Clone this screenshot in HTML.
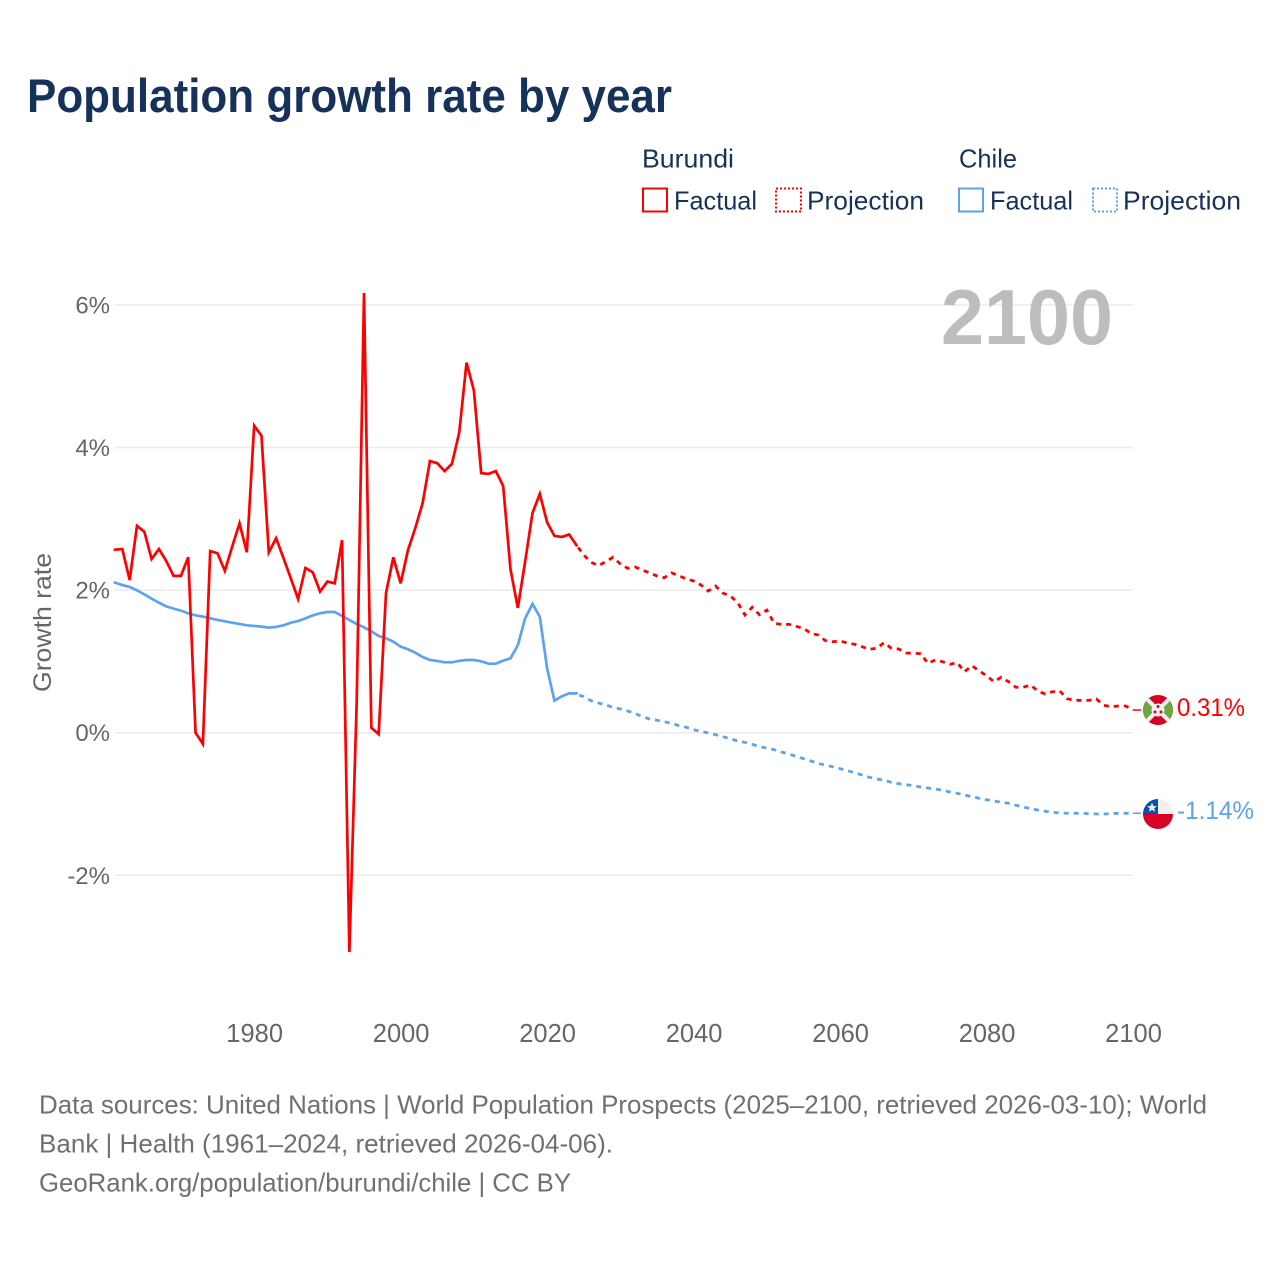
<!DOCTYPE html>
<html lang="en">
<head>
<meta charset="utf-8">
<title>Population growth rate by year</title>
<style>
html,body{margin:0;padding:0;background:#fff;}
svg{display:block;}
text{font-family:"Liberation Sans",sans-serif;}
</style>
</head>
<body>
<svg id="chart" xmlns="http://www.w3.org/2000/svg" width="1280" height="1280" viewBox="0 0 1280 1280">
  <defs>
    <clipPath id="flag-clip-b"><circle cx="1158" cy="710" r="15"/></clipPath>
    <clipPath id="flag-clip-c"><circle cx="1158" cy="814" r="15"/></clipPath>
  </defs>
  <rect x="0" y="0" width="1280" height="1280" fill="#ffffff"/>
  <text x="27" y="112" font-size="47" font-weight="700" fill="#17325a" textLength="645" lengthAdjust="spacingAndGlyphs">Population growth rate by year</text>

  <g font-size="26" fill="#17325a">
    <text x="642" y="167.5" textLength="92" lengthAdjust="spacingAndGlyphs">Burundi</text>
    <text x="959" y="167.5" textLength="58" lengthAdjust="spacingAndGlyphs">Chile</text>
    <g>
      <rect x="643" y="188.5" width="24" height="23" fill="none" stroke="#ff0000" stroke-width="2"/>
      <text x="674" y="209.5" textLength="83" lengthAdjust="spacingAndGlyphs">Factual</text>
    </g>
    <g>
      <rect x="776" y="188.5" width="25" height="23" fill="none" stroke="#ff0000" stroke-width="2" stroke-dasharray="2 2"/>
      <text x="807" y="209.5" textLength="117" lengthAdjust="spacingAndGlyphs">Projection</text>
    </g>
    <g>
      <rect x="959" y="188.5" width="24" height="23" fill="none" stroke="#5ba4ed" stroke-width="2"/>
      <text x="990" y="209.5" textLength="83" lengthAdjust="spacingAndGlyphs">Factual</text>
    </g>
    <g>
      <rect x="1093" y="188.5" width="24" height="23" fill="none" stroke="#5ba4ed" stroke-width="2" stroke-dasharray="2 2"/>
      <text x="1123" y="209.5" textLength="118" lengthAdjust="spacingAndGlyphs">Projection</text>
    </g>
  </g>

  <g id="grid"></g>
  <g id="yticks"></g>
  <g id="xticks"></g>
  <text transform="translate(51 622.5) rotate(-90)" text-anchor="middle" font-size="25" fill="#666666" textLength="139" lengthAdjust="spacingAndGlyphs">Growth rate</text>
  <text x="941" y="344" font-size="78" font-weight="700" fill="#bdbdbd" textLength="172" lengthAdjust="spacingAndGlyphs">2100</text>

  <g id="series"></g>

  <g clip-path="url(#flag-clip-b)">
    <rect x="1143" y="695" width="30" height="30" fill="#d80027"/>
    <path d="M1143 695 L1158 710 L1143 725 Z" fill="#6da544"/>
    <path d="M1173 695 L1158 710 L1173 725 Z" fill="#6da544"/>
    <path d="M1143 695 L1173 725 M1173 695 L1143 725" stroke="#f0f0f0" stroke-width="4"/>
    <circle cx="1158" cy="710" r="6.5" fill="#f0f0f0"/>
    <circle cx="1158" cy="706.5" r="1.5" fill="#d80027"/>
    <circle cx="1155" cy="712" r="1.5" fill="#d80027"/>
    <circle cx="1161" cy="712" r="1.5" fill="#d80027"/>
  </g>
  <g clip-path="url(#flag-clip-c)">
    <rect x="1143" y="799" width="30" height="15" fill="#f0f0f0"/>
    <rect x="1143" y="799" width="15" height="15" fill="#0052b4"/>
    <rect x="1143" y="814" width="30" height="15" fill="#d80027"/>
    <polygon points="1152,802.5 1153.4,806 1157,806.2 1154.2,808.4 1155.1,811.8 1152,809.9 1148.9,811.8 1149.8,808.4 1147,806.2 1150.6,806" fill="#f0f0f0"/>
  </g>
  <text x="1177" y="716" font-size="25" fill="#ff0000" textLength="68" lengthAdjust="spacingAndGlyphs">0.31%</text>
  <text x="1177" y="819" font-size="25" fill="#5ba4ed" textLength="77" lengthAdjust="spacingAndGlyphs">-1.14%</text>

  <g font-size="26" fill="#707070">
    <text x="39" y="1113.5" textLength="1168" lengthAdjust="spacingAndGlyphs">Data sources: United Nations | World Population Prospects (2025–2100, retrieved 2026-03-10); World</text>
    <text x="39" y="1152.5" textLength="574" lengthAdjust="spacingAndGlyphs">Bank | Health (1961–2024, retrieved 2026-04-06).</text>
    <text x="39" y="1191.5" textLength="532" lengthAdjust="spacingAndGlyphs">GeoRank.org/population/burundi/chile | CC BY</text>
  </g>
</svg>
<script>
const factualStartYear = 1961;
const projectionStartYear = 2024;
const yTicks = [6, 4, 2, 0, -2];
const xTicks = [1980, 2000, 2020, 2040, 2060, 2080, 2100];
const burundiFactual = [2.567,2.576,2.14,2.90,2.82,2.436,2.576,2.408,2.20,2.20,2.46,0.0,-0.158,2.548,2.516,2.27,2.61,2.936,2.53,4.306,4.165,2.53,2.726,2.45,2.165,1.875,2.31,2.25,1.98,2.12,2.095,2.70,-3.075,0.43,6.167,0.07,-0.02,1.955,2.46,2.095,2.56,2.87,3.22,3.81,3.78,3.67,3.77,4.21,5.19,4.80,3.64,3.63,3.67,3.46,2.29,1.75,2.40,3.08,3.35,2.95,2.76,2.745,2.78,2.63];
const chileFactual = [2.104,2.071,2.044,1.997,1.94,1.88,1.824,1.772,1.74,1.712,1.674,1.646,1.628,1.604,1.581,1.562,1.543,1.525,1.506,1.497,1.488,1.474,1.483,1.506,1.543,1.566,1.604,1.646,1.674,1.693,1.693,1.637,1.58,1.525,1.478,1.422,1.356,1.324,1.276,1.206,1.17,1.122,1.062,1.02,1.006,0.987,0.987,1.006,1.02,1.02,1.001,0.968,0.968,1.01,1.043,1.226,1.604,1.805,1.627,0.903,0.449,0.51,0.552,0.552];
const burundiProjection = [2.633,2.492,2.39,2.342,2.398,2.46,2.366,2.306,2.324,2.282,2.24,2.198,2.174,2.24,2.202,2.156,2.128,2.072,1.987,2.057,1.959,1.917,1.829,1.651,1.759,1.654,1.72,1.534,1.52,1.52,1.492,1.464,1.394,1.37,1.29,1.276,1.286,1.258,1.24,1.206,1.17,1.184,1.262,1.184,1.174,1.118,1.114,1.108,0.973,1.02,0.996,0.96,0.982,0.856,0.94,0.865,0.8,0.715,0.777,0.715,0.637,0.637,0.669,0.585,0.543,0.575,0.585,0.477,0.454,0.454,0.454,0.473,0.384,0.365,0.374,0.374,0.318];
const chileProjection = [0.543,0.505,0.449,0.417,0.388,0.356,0.332,0.304,0.272,0.224,0.192,0.174,0.154,0.132,0.098,0.076,0.042,0.019,-0.004,-0.028,-0.056,-0.084,-0.116,-0.135,-0.163,-0.196,-0.215,-0.238,-0.271,-0.299,-0.331,-0.365,-0.397,-0.429,-0.457,-0.477,-0.505,-0.533,-0.561,-0.593,-0.626,-0.649,-0.668,-0.696,-0.715,-0.729,-0.743,-0.762,-0.776,-0.79,-0.808,-0.832,-0.85,-0.874,-0.898,-0.92,-0.94,-0.958,-0.976,-0.99,-1.018,-1.042,-1.066,-1.084,-1.102,-1.116,-1.126,-1.13,-1.13,-1.13,-1.136,-1.14,-1.14,-1.136,-1.13,-1.13,-1.13];

const NS = 'http://www.w3.org/2000/svg';
function xScale(year) { return 115 + (year - 1961) * 7.324; }
function yScale(v) { return 732.7 - v * 71.3; }

const grid = document.getElementById('grid');
const yLabels = document.getElementById('yticks');
const xLabels = document.getElementById('xticks');
const seriesLayer = document.getElementById('series');

yTicks.forEach(function (t) {
  const line = document.createElementNS(NS, 'line');
  
  
  line.setAttribute('x1', 115);
  line.setAttribute('x2', 1133);
  line.setAttribute('y1', yScale(t));
  line.setAttribute('y2', yScale(t));
  line.setAttribute('stroke', '#ebebeb');
  line.setAttribute('stroke-width', '1.5');
  grid.appendChild(line);

  const label = document.createElementNS(NS, 'text');
  
  
  label.setAttribute('x', 110);
  label.setAttribute('y', yScale(t) + 8.5);
  label.setAttribute('text-anchor', 'end');
  label.setAttribute('font-size', '24');
  label.setAttribute('fill', '#666666');
  label.textContent = t + '%';
  yLabels.appendChild(label);
});

xTicks.forEach(function (t) {
  const label = document.createElementNS(NS, 'text');
  
  
  label.setAttribute('x', xScale(t) + 0.5);
  label.setAttribute('y', 1042);
  label.setAttribute('text-anchor', 'middle');
  label.setAttribute('font-size', '25.5');
  label.setAttribute('fill', '#666666');
  label.textContent = t;
  xLabels.appendChild(label);
});

function pathFrom(values, startYear) {
  return values.map(function (v, i) {
    return (i ? 'L' : 'M') + xScale(startYear + i).toFixed(2) + ' ' + yScale(v).toFixed(2);
  }).join(' ');
}

function drawFactual(values, color, name) {
  const p = document.createElementNS(NS, 'path');
  
  
  p.setAttribute('d', pathFrom(values, factualStartYear));
  p.setAttribute('fill', 'none');
  p.setAttribute('stroke', color);
  p.setAttribute('stroke-width', '2.7');
  p.setAttribute('stroke-linejoin', 'miter');
  p.setAttribute('stroke-linecap', 'square');
  seriesLayer.appendChild(p);
}

function drawProjection(values, color, name) {
  const p = document.createElementNS(NS, 'path');
  
  
  p.setAttribute('d', pathFrom(values, projectionStartYear));
  p.setAttribute('fill', 'none');
  p.setAttribute('stroke', color);
  p.setAttribute('stroke-width', '2.8');
  p.setAttribute('stroke-dasharray', '5 5');
  p.setAttribute('stroke-dashoffset', '-3');
  seriesLayer.appendChild(p);

  const stub = document.createElementNS(NS, 'path');
  
  
  stub.setAttribute('d', 'M' + xScale(projectionStartYear + values.length - 1) + ' ' + yScale(values[values.length - 1]) + ' h8');
  stub.setAttribute('fill', 'none');
  stub.setAttribute('stroke', color);
  stub.setAttribute('stroke-width', '1.5');
  seriesLayer.appendChild(stub);
}

drawFactual(chileFactual, '#5ba4ed', 'line-chile-factual');
drawProjection(chileProjection, '#5ba4ed', 'line-chile-projection');
drawFactual(burundiFactual, '#ff0000', 'line-burundi-factual');
drawProjection(burundiProjection, '#ff0000', 'line-burundi-projection');
</script>
</body>
</html>
